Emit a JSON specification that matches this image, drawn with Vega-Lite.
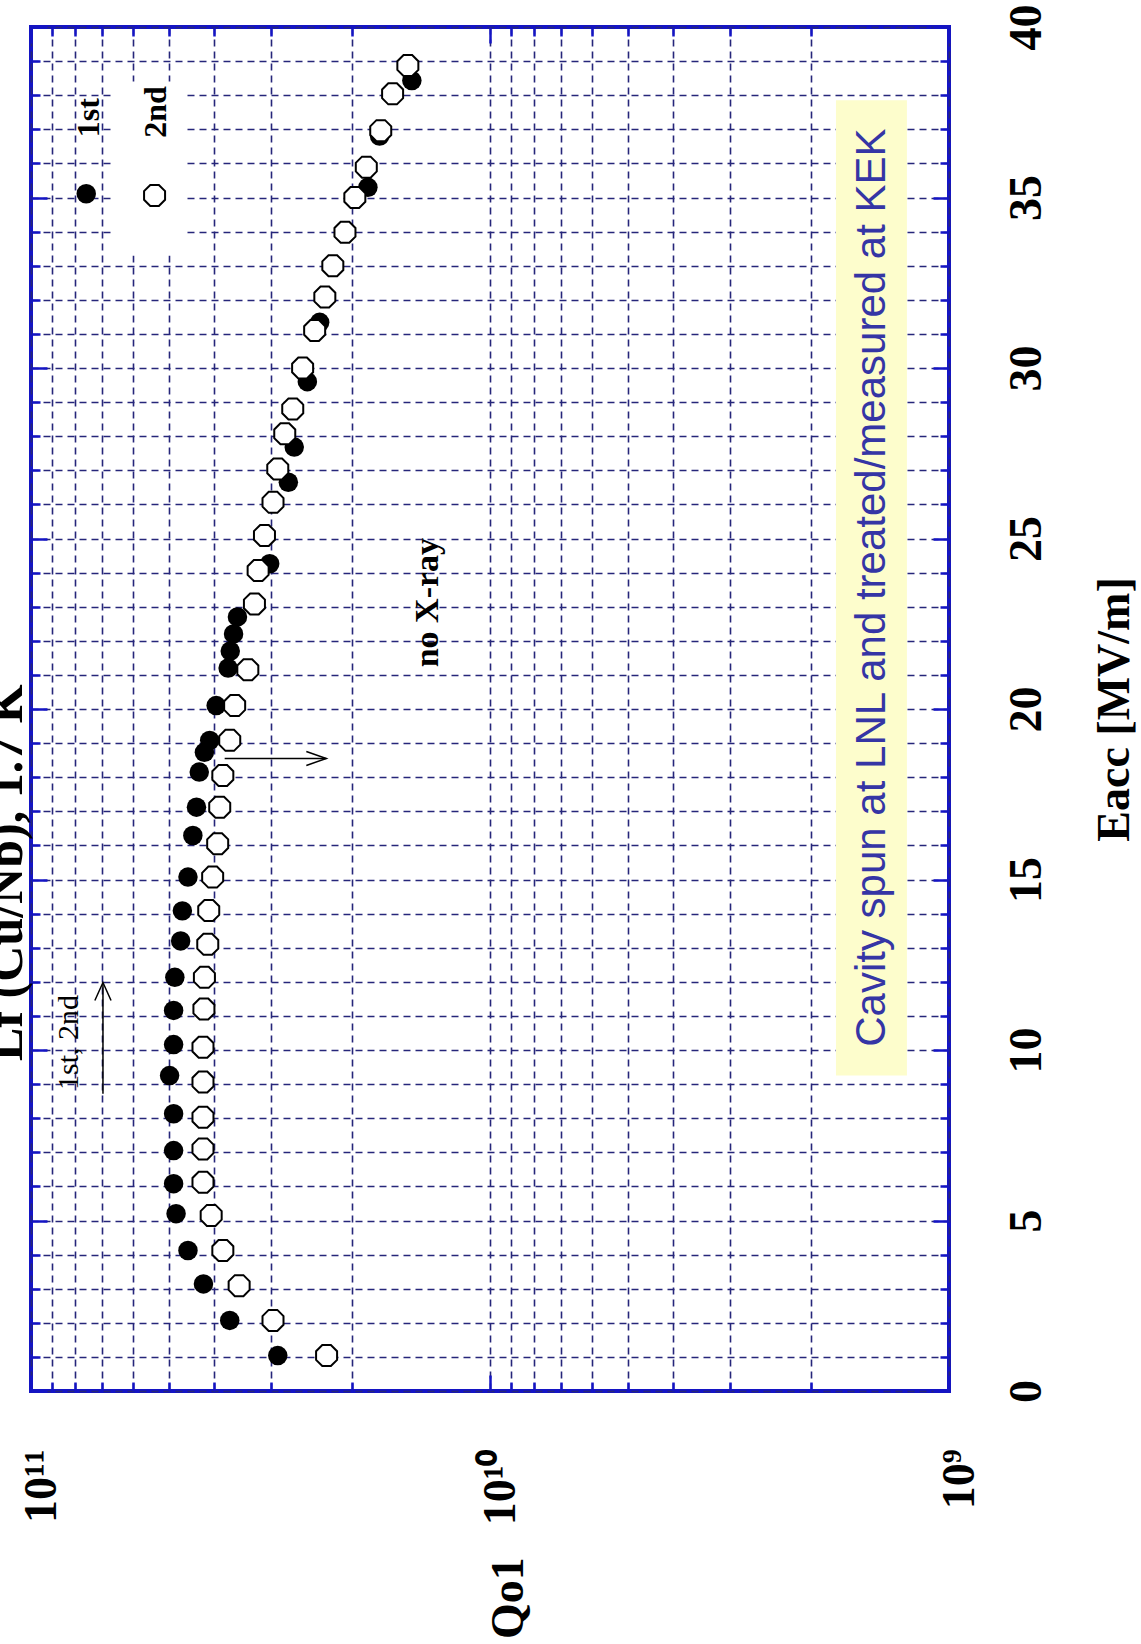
{
  "$schema": "https://vega.github.io/schema/vega-lite/v6.json",
  "width": 918,
  "height": 1364,
  "autosize": "none",
  "padding": {"left": 31, "top": 27, "right": 192, "bottom": 253},
  "background": "white",
  "config": {
    "view": {"stroke": "#1414c4", "strokeWidth": 4},
    "axis": {
      "domain": false,
      "labelFont": "Liberation Serif",
      "labelFontWeight": "bold",
      "labelFontSize": 46,
      "labelColor": "black",
      "labelOverlap": false,
      "labelBound": false,
      "labelFlush": false,
      "titleFont": "Liberation Serif",
      "titleFontWeight": "bold",
      "titleFontSize": 46,
      "titleColor": "black",
      "tickColor": "#1414c4",
      "tickWidth": 2.5,
      "gridColor": "#26267a",
      "gridDash": [7, 5],
      "gridWidth": 1.6
    }
  },
  "datasets": {
    "pts": [
      {"run": "1st", "eacc": 1.04, "q": 2.9e10},
      {"run": "1st", "eacc": 2.07, "q": 3.69e10},
      {"run": "1st", "eacc": 3.14, "q": 4.21e10},
      {"run": "1st", "eacc": 4.12, "q": 4.55e10},
      {"run": "1st", "eacc": 5.2, "q": 4.83e10},
      {"run": "1st", "eacc": 6.08, "q": 4.89e10},
      {"run": "1st", "eacc": 7.05, "q": 4.89e10},
      {"run": "1st", "eacc": 8.13, "q": 4.89e10},
      {"run": "1st", "eacc": 9.25, "q": 4.99e10},
      {"run": "1st", "eacc": 10.16, "q": 4.89e10},
      {"run": "1st", "eacc": 11.16, "q": 4.89e10},
      {"run": "1st", "eacc": 12.13, "q": 4.86e10},
      {"run": "1st", "eacc": 13.2, "q": 4.72e10},
      {"run": "1st", "eacc": 14.08, "q": 4.68e10},
      {"run": "1st", "eacc": 15.07, "q": 4.55e10},
      {"run": "1st", "eacc": 16.29, "q": 4.44e10},
      {"run": "1st", "eacc": 17.12, "q": 4.36e10},
      {"run": "1st", "eacc": 18.15, "q": 4.3e10},
      {"run": "1st", "eacc": 18.73, "q": 4.19e10},
      {"run": "1st", "eacc": 19.08, "q": 4.08e10},
      {"run": "1st", "eacc": 20.1, "q": 3.95e10},
      {"run": "1st", "eacc": 21.2, "q": 3.72e10},
      {"run": "1st", "eacc": 21.7, "q": 3.68e10},
      {"run": "1st", "eacc": 22.2, "q": 3.62e10},
      {"run": "1st", "eacc": 22.7, "q": 3.55e10},
      {"run": "1st", "eacc": 24.26, "q": 3.02e10},
      {"run": "1st", "eacc": 26.65, "q": 2.75e10},
      {"run": "1st", "eacc": 27.68, "q": 2.67e10},
      {"run": "1st", "eacc": 29.6, "q": 2.5e10},
      {"run": "1st", "eacc": 31.34, "q": 2.35e10},
      {"run": "1st", "eacc": 35.3, "q": 1.845e10},
      {"run": "1st", "eacc": 36.8, "q": 1.74e10},
      {"run": "1st", "eacc": 38.43, "q": 1.48e10},
      {"run": "2nd", "eacc": 1.04, "q": 2.27e10},
      {"run": "2nd", "eacc": 2.07, "q": 2.97e10},
      {"run": "2nd", "eacc": 3.09, "q": 3.52e10},
      {"run": "2nd", "eacc": 4.12, "q": 3.82e10},
      {"run": "2nd", "eacc": 5.15, "q": 4.05e10},
      {"run": "2nd", "eacc": 6.12, "q": 4.22e10},
      {"run": "2nd", "eacc": 7.1, "q": 4.22e10},
      {"run": "2nd", "eacc": 8.03, "q": 4.22e10},
      {"run": "2nd", "eacc": 9.06, "q": 4.22e10},
      {"run": "2nd", "eacc": 10.08, "q": 4.22e10},
      {"run": "2nd", "eacc": 11.2, "q": 4.2e10},
      {"run": "2nd", "eacc": 12.13, "q": 4.19e10},
      {"run": "2nd", "eacc": 13.1, "q": 4.12e10},
      {"run": "2nd", "eacc": 14.09, "q": 4.1e10},
      {"run": "2nd", "eacc": 15.07, "q": 4.02e10},
      {"run": "2nd", "eacc": 16.05, "q": 3.92e10},
      {"run": "2nd", "eacc": 17.12, "q": 3.88e10},
      {"run": "2nd", "eacc": 18.05, "q": 3.82e10},
      {"run": "2nd", "eacc": 19.08, "q": 3.69e10},
      {"run": "2nd", "eacc": 20.1, "q": 3.6e10},
      {"run": "2nd", "eacc": 21.15, "q": 3.37e10},
      {"run": "2nd", "eacc": 23.08, "q": 3.26e10},
      {"run": "2nd", "eacc": 24.06, "q": 3.2e10},
      {"run": "2nd", "eacc": 25.09, "q": 3.1e10},
      {"run": "2nd", "eacc": 26.06, "q": 2.97e10},
      {"run": "2nd", "eacc": 27.04, "q": 2.9e10},
      {"run": "2nd", "eacc": 28.07, "q": 2.8e10},
      {"run": "2nd", "eacc": 28.8, "q": 2.69e10},
      {"run": "2nd", "eacc": 30.0, "q": 2.56e10},
      {"run": "2nd", "eacc": 31.1, "q": 2.41e10},
      {"run": "2nd", "eacc": 32.08, "q": 2.29e10},
      {"run": "2nd", "eacc": 33.0, "q": 2.2e10},
      {"run": "2nd", "eacc": 33.98, "q": 2.07e10},
      {"run": "2nd", "eacc": 35.0, "q": 1.97e10},
      {"run": "2nd", "eacc": 35.89, "q": 1.86e10},
      {"run": "2nd", "eacc": 36.96, "q": 1.73e10},
      {"run": "2nd", "eacc": 38.04, "q": 1.63e10},
      {"run": "2nd", "eacc": 38.87, "q": 1.51e10}
    ]
  },
  "resolve": {"axis": {"x": "independent", "y": "independent"}},
  "layer": [
    {
      "data": {"values": [{"q1": 4.63e10, "q2": 6.675e10, "e1": 33.3, "e2": 38.4}]},
      "mark": {"type": "rect", "fill": "white"},
      "encoding": {
        "x": {
          "field": "q1", "type": "quantitative",
          "scale": {"type": "log", "domain": [1e9, 1e11], "reverse": true, "nice": false},
          "axis": {
            "orient": "bottom",
            "values": [1e9, 2e9, 3e9, 4e9, 5e9, 6e9, 7e9, 8e9, 9e9, 1e10, 2e10, 3e10, 4e10, 5e10, 6e10, 7e10, 8e10, 9e10, 1e11],
            "labelExpr": "datum.value === 1e11 ? '10¹¹' : datum.value === 1e10 ? '10¹⁰' : datum.value === 1e9 ? '10⁹' : ''",
            "labelAngle": -90,
            "labelAlign": "right",
            "labelBaseline": "middle",
            "labelPadding": 74,
            "labelOffset": 10,
            "tickSize": {"condition": {"test": "datum.value === 1e9 || datum.value === 1e10 || datum.value === 1e11", "value": -16}, "value": -9},
            "grid": true,
            "title": "Qo1",
            "titleAngle": -90,
            "titleAlign": "right",
            "titleBaseline": "middle",
            "titlePadding": 32,
            "titleX": 477
          }
        },
        "x2": {"field": "q2"},
        "y": {
          "field": "e1", "type": "quantitative",
          "scale": {"domain": [0, 40], "nice": false, "zero": false},
          "axis": {
            "orient": "right",
            "values": [0, 1, 2, 3, 4, 5, 6, 7, 8, 9, 10, 11, 12, 13, 14, 15, 16, 17, 18, 19, 20, 21, 22, 23, 24, 25, 26, 27, 28, 29, 30, 31, 32, 33, 34, 35, 36, 37, 38, 39, 40],
            "labelExpr": "datum.value % 5 === 0 ? datum.label : ''",
            "labelAngle": -90,
            "labelAlign": "center",
            "labelBaseline": "top",
            "labelPadding": 71,
            "tickSize": {"condition": {"test": "datum.value % 5 === 0", "value": -16}, "value": -9},
            "grid": true,
            "title": "Eacc [MV/m]",
            "titleAngle": -90,
            "titleAlign": "center",
            "titleBaseline": "top",
            "titlePadding": 36
          }
        },
        "y2": {"field": "e2"}
      }
    },
    {
      "data": {"values": [{"q1": 1.235e9, "q2": 1.763e9, "e1": 9.25, "e2": 37.85}]},
      "mark": {"type": "rect", "fill": "#fdfdcc"},
      "encoding": {
        "x": {
          "field": "q1", "type": "quantitative",
          "scale": {"type": "log", "domain": [1e9, 1e11], "reverse": true, "nice": false},
          "axis": {
            "orient": "top",
            "values": [1e9, 2e9, 3e9, 4e9, 5e9, 6e9, 7e9, 8e9, 9e9, 1e10, 2e10, 3e10, 4e10, 5e10, 6e10, 7e10, 8e10, 9e10, 1e11],
            "labels": false,
            "tickSize": {"condition": {"test": "datum.value === 1e9 || datum.value === 1e10 || datum.value === 1e11", "value": -16}, "value": -9},
            "grid": false,
            "title": null
          }
        },
        "x2": {"field": "q2"},
        "y": {
          "field": "e1", "type": "quantitative",
          "scale": {"domain": [0, 40], "nice": false, "zero": false},
          "axis": {
            "orient": "left",
            "values": [0, 1, 2, 3, 4, 5, 6, 7, 8, 9, 10, 11, 12, 13, 14, 15, 16, 17, 18, 19, 20, 21, 22, 23, 24, 25, 26, 27, 28, 29, 30, 31, 32, 33, 34, 35, 36, 37, 38, 39, 40],
            "labels": false,
            "tickSize": {"condition": {"test": "datum.value % 5 === 0", "value": -16}, "value": -9},
            "grid": false,
            "title": null
          }
        },
        "y2": {"field": "e2"}
      }
    },
    {
      "data": {"values": [{"label": "Cavity spun at LNL and treated/measured at KEK", "q": 1.472e9, "eacc": 23.56}]},
      "mark": {"type": "text", "angle": 270, "align": "center", "baseline": "middle", "font": "Liberation Sans", "fontSize": 42, "color": "#3535a5"},
      "encoding": {
        "x": {"field": "q", "type": "quantitative", "axis": null},
        "y": {"field": "eacc", "type": "quantitative", "axis": null},
        "text": {"field": "label"}
      }
    },
    {
      "data": {"values": [{"q": 6.97e10, "e1": 8.72, "e2": 11.98}]},
      "mark": {"type": "rule", "color": "black", "strokeWidth": 1.5},
      "encoding": {
        "x": {"field": "q", "type": "quantitative", "axis": null},
        "y": {"field": "e1", "type": "quantitative", "axis": null},
        "y2": {"field": "e2"}
      }
    },
    {
      "data": {"values": [{"q1": 3.785e10, "q2": 2.273e10, "eacc": 18.55}]},
      "mark": {"type": "rule", "color": "black", "strokeWidth": 1.5},
      "encoding": {
        "x": {"field": "q1", "type": "quantitative", "axis": null},
        "x2": {"field": "q2"},
        "y": {"field": "eacc", "type": "quantitative", "axis": null}
      }
    },
    {
      "data": {"values": [{"q": 6.97e10, "eacc": 11.98}]},
      "mark": {"type": "point", "shape": "M-0.9,2 L0,0 L0.9,2", "size": 324, "filled": false, "stroke": "black", "strokeWidth": 1.5, "opacity": 1},
      "encoding": {
        "x": {"field": "q", "type": "quantitative", "axis": null},
        "y": {"field": "eacc", "type": "quantitative", "axis": null}
      }
    },
    {
      "data": {"values": [{"q": 2.273e10, "eacc": 18.55}]},
      "mark": {"type": "point", "shape": "M-2,-0.7 L0,0 L-2,0.7", "size": 400, "filled": false, "stroke": "black", "strokeWidth": 1.5, "opacity": 1},
      "encoding": {
        "x": {"field": "q", "type": "quantitative", "axis": null},
        "y": {"field": "eacc", "type": "quantitative", "axis": null}
      }
    },
    {
      "data": {"name": "pts"},
      "transform": [{"filter": "datum.run === '1st'"}],
      "mark": {"type": "point", "shape": "circle", "size": 380, "filled": true, "color": "black", "opacity": 1},
      "encoding": {
        "x": {"field": "q", "type": "quantitative", "axis": null},
        "y": {"field": "eacc", "type": "quantitative", "axis": null}
      }
    },
    {
      "data": {"name": "pts"},
      "transform": [{"filter": "datum.run === '2nd'"}],
      "mark": {"type": "point", "shape": "M-0.41,-1 L0.41,-1 L1,-0.41 L1,0.41 L0.41,1 L-0.41,1 L-1,0.41 L-1,-0.41 Z", "size": 441, "filled": true, "fill": "white", "stroke": "black", "strokeWidth": 2, "opacity": 1},
      "encoding": {
        "x": {"field": "q", "type": "quantitative", "axis": null},
        "y": {"field": "eacc", "type": "quantitative", "axis": null}
      }
    },
    {
      "data": {"values": [{"q": 7.58e10, "eacc": 35.11}]},
      "mark": {"type": "point", "shape": "circle", "size": 380, "filled": true, "color": "black", "opacity": 1},
      "encoding": {
        "x": {"field": "q", "type": "quantitative", "axis": null},
        "y": {"field": "eacc", "type": "quantitative", "axis": null}
      }
    },
    {
      "data": {"values": [{"q": 5.38e10, "eacc": 35.06}]},
      "mark": {"type": "point", "shape": "M-0.41,-1 L0.41,-1 L1,-0.41 L1,0.41 L0.41,1 L-0.41,1 L-1,0.41 L-1,-0.41 Z", "size": 441, "filled": true, "fill": "white", "stroke": "black", "strokeWidth": 2, "opacity": 1},
      "encoding": {
        "x": {"field": "q", "type": "quantitative", "axis": null},
        "y": {"field": "eacc", "type": "quantitative", "axis": null}
      }
    },
    {
      "data": {"values": [
        {"label": "1st", "q": 7.46e10, "eacc": 37.34},
        {"label": "2nd", "q": 5.34e10, "eacc": 37.51}
      ]},
      "mark": {"type": "text", "angle": 270, "align": "center", "baseline": "middle", "font": "Liberation Serif", "fontWeight": "bold", "fontSize": 32, "color": "black"},
      "encoding": {
        "x": {"field": "q", "type": "quantitative", "axis": null},
        "y": {"field": "eacc", "type": "quantitative", "axis": null},
        "text": {"field": "label"}
      }
    },
    {
      "data": {"values": [{"label": "no X-ray", "q": 1.367e10, "eacc": 23.12}]},
      "mark": {"type": "text", "angle": 270, "align": "center", "baseline": "middle", "font": "Liberation Serif", "fontWeight": "bold", "fontSize": 34, "color": "black"},
      "encoding": {
        "x": {"field": "q", "type": "quantitative", "axis": null},
        "y": {"field": "eacc", "type": "quantitative", "axis": null},
        "text": {"field": "label"}
      }
    },
    {
      "data": {"values": [{"label": "1st, 2nd", "q": 8.28e10, "eacc": 10.22}]},
      "mark": {"type": "text", "angle": 270, "align": "center", "baseline": "middle", "font": "Liberation Serif", "fontSize": 30, "color": "black"},
      "encoding": {
        "x": {"field": "q", "type": "quantitative", "axis": null},
        "y": {"field": "eacc", "type": "quantitative", "axis": null},
        "text": {"field": "label"}
      }
    },
    {
      "data": {"values": [{"label": "Lf (Cu/Nb), 1.7 K", "q": 1.13e11, "eacc": 15.2}]},
      "mark": {"type": "text", "angle": 270, "align": "center", "baseline": "middle", "font": "Liberation Serif", "fontWeight": "bold", "fontSize": 50, "color": "black", "clip": false},
      "encoding": {
        "x": {"field": "q", "type": "quantitative", "axis": null},
        "y": {"field": "eacc", "type": "quantitative", "axis": null},
        "text": {"field": "label"}
      }
    }
  ]
}
